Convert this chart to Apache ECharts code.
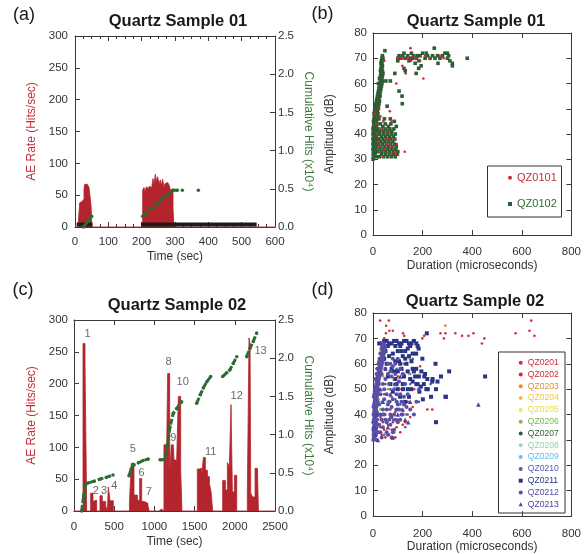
<!DOCTYPE html>
<html><head><meta charset="utf-8">
<script src="https://cdn.jsdelivr.net/npm/echarts@6/dist/echarts.min.js"></script>
<style>html,body{margin:0;padding:0;background:#fff}#c{width:584px;height:554px}</style>
</head><body><div id="c"></div>
<script>
// ---------- Panel (a): Quartz Sample 01, AE rate vs time ----------
const aRate = [[0,0],[10,8],[14,38],[18,40],[21,43],[24,44],[27,60],[29,67],[32,65],[34,67],[37,64],[40,66],[42,62],[45,61],[48,35],[50,10],[52,0],
 [203,58],[207,62],[210,55],[214,63],[218,60],[222,64],[226,62],[230,65],[234,76],[237,66],[241,83],[245,70],[248,79],[252,68],[256,74],[259,65],[263,75],[267,62],[270,68],[274,70],[278,72],[282,66],[286,58],[290,60],[294,30],[297,0],[600,0]];
const aBase = [[5,3.9],[52,3.9],[100,'-'],[198,3.9],[545,3.9]];
const aCum = [[25,0],[38,0.07],[50,0.14],[100,'-'],[203,0.14],[230,0.24],[260,0.36],[280,0.43],[295,0.48],[307,0.48],[314,'-'],[322,0.48],[340,'-'],[370,0.48]];

// ---------- Panel (b): Quartz Sample 01, amplitude vs duration ----------
const bQZ0101 = [[151,74],[132,64],[203,62],[94,60],[68,49],[114,70],[122,70],[154,69],[160,71],[172,70],[232,70],[268,71],[285,70],[210,71],[190,69],[140,70],[100,70],[46,69],
 [60,38],[42,45],[128,33],[90,33],[22,35],[50,38],[30,47],[80,35],[70,32],[12,44],[46,34],[25,50],[16,40],[56,36],[85,38],[96,36],[36,42],[64,41],[20,37],[75,45],[40,31],[8,48],[118,67],[93,32],[27,35],[66,36]];
const bQZ0102 = [
 [0,30],[2,31],[5,31],[1,32],[4,32],[8,32],[2,33],[6,33],[10,33],[0,34],[4,34],[8,34],[12,34],[2,35],[6,35],[10,35],[14,35],[0,36],[4,36],[8,36],[12,36],[2,37],[6,37],[10,37],[14,37],
 [0,38],[4,38],[8,38],[12,38],[16,38],[2,39],[6,39],[10,39],[14,39],[0,40],[4,40],[8,40],[12,40],[16,40],[2,41],[6,41],[10,41],[14,41],[0,42],[4,42],[8,42],[12,42],[16,42],
 [2,43],[6,43],[10,43],[14,43],[4,44],[8,44],[12,44],[16,44],[2,45],[6,45],[10,45],[14,45],[4,46],[8,46],[12,46],[16,46],[6,47],[10,47],[14,47],[18,47],[4,48],[8,48],[12,48],[16,48],[20,48],
 [6,49],[10,49],[14,49],[18,49],[8,50],[12,50],[16,50],[20,50],[10,51],[14,51],[18,51],[22,51],[12,52],[16,52],[20,52],[24,52],[14,53],[18,53],[22,53],[26,53],[16,54],[20,54],[24,54],
 [18,55],[22,55],[26,55],[28,55],[20,56],[24,56],[28,56],[22,57],[26,57],[30,57],[24,58],[28,58],[32,58],[26,59],[30,59],[34,59],[22,60],[28,60],[32,60],[36,60],[30,61],[34,61],[38,61],
 [26,62],[32,62],[36,62],[30,63],[34,63],[38,63],[32,64],[36,64],[40,64],[30,65],[34,65],[38,65],[32,66],[36,66],[34,67],[38,67],[32,68],[36,68],[34,69],[38,69],[36,70],[40,70],[38,71],
 [18,31],[26,31],[34,32],[42,31],[50,32],[58,31],[66,32],[74,31],[82,32],[90,31],[98,32],[20,33],[28,34],[36,33],[44,34],[52,33],[60,34],[68,33],[76,34],[84,33],[92,34],[100,33],
 [22,36],[30,35],[38,36],[46,35],[54,36],[62,35],[70,36],[78,35],[86,36],[94,35],[24,38],[32,37],[40,38],[48,37],[56,38],[64,37],[72,38],[80,37],[88,38],
 [26,40],[34,39],[42,40],[50,39],[58,40],[66,39],[74,40],[82,39],[90,40],[20,42],[28,41],[36,42],[44,41],[52,42],[60,41],[68,42],[76,41],[84,42],[30,44],[40,43],[50,44],[62,43],[72,44],[86,45],[94,43],[24,46],[46,46],[70,46],
 [48,73],[35,63],[52,61],[70,61],[88,64],[57,51],[105,57],[117,55],[118,52],[174,64],[184,66],[194,67],[130,65],[170,68],[125,66],
 [100,70],[105,71],[112,70],[120,71],[130,70],[140,71],[145,69],[152,70],[160,70],[165,71],[175,70],[180,71],[190,71],[200,72],[210,70],[220,71],[230,70],[240,71],[250,70],[260,71],[270,70],[280,71],[290,72],[300,70],[310,69],[320,68],[100,69],[125,72],[155,72],[185,69],[215,72],[247,74],[262,68],[300,72],[305,71],[380,70],[320,67]];

// ---------- Panel (c): Quartz Sample 02, AE rate vs time ----------
const cRate = [[0,0],[112,263],[137,234],[158,0],
 [207,28],[236,15],[257,17],[282,0],
 [323,24],[352,15],[394,8],[415,0],
 [427,38],[448,16],[489,0],
 [690,15],[713,75],[746,25],[788,17],[817,51],[842,15],[870,12],[920,8],[935,0],
 [1057,3],[1086,0],
 [1119,104],[1144,15],[1165,216],[1190,60],[1210,104],[1235,101],[1244,80],[1277,83],[1298,180],[1327,64],[1343,0],
 [1534,66],[1559,67],[1588,54],[1609,84],[1634,64],[1659,54],[1684,43],[1705,30],[1725,0],
 [1849,48],[1883,33],[1908,76],[1932,70],[1953,167],[1970,30],[1995,56],[2024,0],
 [2156,30],[2177,272],[2190,262],[2198,28],[2220,22],[2252,67],[2281,64],[2294,0],[2500,0]];
const cCum = [[95,0],[120,0.2],[150,0.36],[186,0.37],[250,0.39],[330,0.42],[400,0.44],[485,0.47],[550,'-'],
 [684,0.46],[710,0.55],[738,0.60],[800,0.63],[860,0.66],[924,0.68],[1000,'-'],
 [1070,0.67],[1124,0.67],[1160,0.85],[1194,1.10],[1235,1.28],[1277,1.34],[1339,1.43],[1400,'-'],
 [1526,1.41],[1570,1.52],[1608,1.61],[1650,1.69],[1700,1.76],[1780,'-'],
 [1849,1.76],[1900,1.81],[1940,1.85],[1980,1.93],[2024,2.02],[2090,'-'],
 [2148,2.02],[2189,2.13],[2230,2.22],[2272,2.33]];
const cPeakLabels = [[170,278,'1'],[270,31,'2'],[375,31,'3'],[500,40,'4'],[730,97,'5'],[840,60,'6'],[930,30,'7'],[1177,234,'8'],[1235,115,'9'],[1352,203,'10'],[1700,93,'11'],[2023,181,'12'],[2321,251,'13']];

// ---------- Panel (d): Quartz Sample 02, amplitude vs duration ----------
const dNames = ['QZ0201','QZ0202','QZ0203','QZ0204','QZ0205','QZ0206','QZ0207','QZ0208','QZ0209','QZ0210','QZ0211','QZ0212','QZ0213'];
const d01 = [[29,77],[64,77],[53,75],[66,73],[80,73],[126,71],[206,71],[199,70],[272,72],[286,70],[292,72],[332,72],[359,71],[385,71],[405,72],[439,68],[449,70],[575,72],[631,73],[638,77],[651,71],[52,72],[121,72],[45,70],[35,67],[28,64],[22,61],[160,69],[190,59],[166,50],[150,56],[125,60]];
const d02 = [[5,33],[15,32],[25,33],[35,32],[45,34],[55,33],[65,32],[75,34],[85,33],[95,35],[110,33],[20,36],[40,37],[60,36],[80,37],[100,38],[120,36],[30,39],[50,40],[70,39],[90,41],[115,42],[135,40],[160,43],[219,42],[239,42],[10,45],[15,52],[20,58],[8,40],[60,44],[75,47],[140,45],[105,47],[12,38],[30,35],[50,31],[90,31],[130,37],[150,39],[70,42],[45,48],[85,52],[100,55],[115,50]];
const d03 = [[292,75],[40,55],[22,46]];
const d04 = [[81,54],[30,65],[17,53]];
const d05 = [[10,48],[25,60],[60,52]];
const d06 = [[148,62],[60,50],[30,42]];
const d07 = [[35,40],[15,58],[70,45]];
const d08 = [[55,45],[90,42],[30,38],[45,52]];
const d09 = [[145,56],[70,47],[100,45],[40,60]];
const d10 = [[20,38],[35,45],[50,52],[65,42],[80,38],[95,58],[110,44],[125,56],[140,40],[150,52],[12,50],[28,62],[8,42],[45,32],[70,50],[90,46],[130,35],[160,62],[185,45],[232,52]];
const d11 = [[25,68],[35,68],[45,69],[55,69],[65,68],[75,68],[85,69],[95,69],[105,68],[115,68],[125,69],[135,69],[145,68],[155,68],[165,69],[175,68],[180,67],[60,67],[110,67],[150,67],[217,72],
 [174,58],[207,55],[240,54],[274,55],[307,57],[254,50],[221,50],[187,49],[154,50],[121,50],[174,64],[184,66],[130,65],[115,65],[160,64],[294,47],[254,37],[234,47],[201,46],
 [199,62],[452,55],[252,60],[292,47],[239,53],[219,54],[193,51],[160,58],[140,57],[170,55],[180,52],[210,56],[120,52],[100,57],[130,62],[110,60],[150,54],[260,53],[140,50],[80,64],[90,61],[60,55],[75,58],[95,52],
 [45,62],[55,60],[65,63],[85,57],[105,61],[115,58],[125,55],[135,60],[145,63],[155,61],[165,57],[175,52],[185,55],[195,57],[205,52],[215,50],[70,52],[80,49],[90,54],[100,50],[110,47],[130,45],[145,47],[160,53],[120,63],[100,65],[90,67],[140,66],[50,65],[40,62]];
const d12 = [[1,30],[3,31],[6,31],[2,32],[8,32],[4,33],[10,33],[1,34],[6,34],[12,34],[3,35],[9,35],[14,35],[5,36],[11,36],[1,37],[7,37],[13,37],[3,38],[9,38],[15,38],[5,39],[11,39],[2,40],[8,40],[14,40],[4,41],[10,41],[16,41],
 [6,42],[12,42],[2,43],[8,43],[14,43],[4,44],[10,44],[17,44],[6,45],[12,45],[19,45],[8,46],[14,46],[3,47],[10,47],[16,47],[5,48],[12,48],[18,48],[7,49],[14,49],[20,49],[9,50],[16,50],[22,50],
 [11,51],[18,51],[13,52],[20,52],[24,52],[15,53],[22,53],[10,54],[17,54],[24,54],[19,55],[26,55],[14,56],[21,56],[28,56],[23,57],[30,57],[18,58],[25,58],[32,58],[27,59],[34,59],[22,60],[29,60],[36,60],
 [31,61],[38,61],[26,62],[33,62],[40,62],[35,63],[42,63],[30,64],[37,64],[44,64],[39,65],[46,65],[34,66],[41,66],[48,66],[43,67],[50,67],[38,68],[45,68],
 [30,40],[40,42],[50,38],[60,44],[70,40],[80,46],[90,38],[100,44],[110,48],[120,40],[45,50],[55,48],[65,52],[75,55],[85,50],[95,48],[105,53],[115,45],[125,47],[135,43],[40,35],[55,33],[70,36],[85,34],[100,37],
 [35,56],[50,58],[60,60],[70,57],[80,59],[90,56],[60,32],[75,31],[45,46],[25,44],[30,33],[95,42],[110,38],[130,52],[140,48],[150,42],[165,40],[175,45],[185,50],
 [20,40],[35,38],[45,40],[55,42],[65,45],[75,43],[85,40],[95,45],[105,42],[115,40],[125,44],[50,54],[60,56],[70,60],[80,62],[90,60],[100,62],[110,58],[120,56],[40,52],[30,48],[25,36],[35,31],[20,33],[15,30],[40,40],[55,37],[65,38],[75,39],[80,33]];
const d13 = [[425,44],[142,37],[80,31],[20,30],[10,32],[60,35],[100,40],[40,45],[120,42],[30,50],[70,48],[110,55],[50,58],[90,52],[150,45],[15,40],[5,35],[130,38]];

// ---------- styling ----------
const F = '"Liberation Sans", Arial, Helvetica, sans-serif';
const AX = '#3a3a3a', TXT = '#333';
const RED = '#b3242c', GREEN = '#2f6a34';

function xAx(g, min, max, itv, pos, o) {
  o = o || {};
  return {gridIndex:g, type:'value', position:pos, min, max, interval:itv,
    name: pos==='bottom' ? o.name : '', nameLocation:'middle', nameGap:o.nameGap||24,
    nameTextStyle:{fontFamily:F, fontSize:12, color:TXT},
    axisLine:{show:true, onZero:false, lineStyle:{color:AX, width:1}},
    axisTick:{show:true, inside:true, length:5, lineStyle:{color:AX}},
    minorTick:{show:!!o.minor, splitNumber:o.minor||5, length:3, lineStyle:{color:AX}},
    splitLine:{show:false},
    axisLabel:{show:pos==='bottom', fontFamily:F, fontSize:11.5, color:TXT, margin:o.margin||9, formatter:v=>String(v)}};
}
function yAx(g, min, max, itv, pos, o) {
  o = o || {};
  return {gridIndex:g, type:'value', position:pos, min, max, interval:itv,
    name:o.name||'', nameLocation:'middle', nameGap:o.nameGap||37, nameRotate:o.rot,
    nameTextStyle:{fontFamily:F, fontSize:12, color:o.nameColor||TXT},
    axisLine:{show:true, onZero:false, lineStyle:{color:AX, width:1}},
    axisTick:{show:true, inside:true, length:5, lineStyle:{color:AX}},
    splitLine:{show:false},
    axisLabel:{show:!!o.label, fontFamily:F, fontSize:11.5, color:TXT, margin:o.margin||6, formatter:o.fmt||(v=>String(v))}};
}
const f1 = v => v.toFixed(1);

const grids = [
  {left:75, top:36, width:200, height:191},
  {left:373, top:33, width:201, height:202},
  {left:74, top:320, width:201, height:191},
  {left:373, top:313, width:201, height:204}
];
const xAxis = [
  xAx(0,0,600,100,'bottom',{name:'Time (sec)', minor:4, margin:9, nameGap:24}), xAx(0,0,600,100,'top',{minor:4}),
  xAx(1,0,800,200,'bottom',{name:'Duration (microseconds)', margin:11, nameGap:25}), xAx(1,0,800,200,'top'),
  xAx(2,0,2500,500,'bottom',{name:'Time (sec)', margin:10, nameGap:25}), xAx(2,0,2500,500,'top'),
  xAx(3,0,800,200,'bottom',{name:'Duration (microseconds)', margin:12, nameGap:24}), xAx(3,0,800,200,'top')
];
const yAxis = [
  yAx(0,0,300,50,'left',{name:'AE Rate (Hits/sec)', nameColor:'#c0303a', nameGap:37, label:true, margin:7}),
  yAx(0,0,2.5,0.5,'right',{name:'Cumulative Hits (x10⁴)', nameColor:'#3d7a3d', nameGap:27, rot:-90, label:true, margin:3, fmt:f1}),
  yAx(1,0,80,10,'left',{name:'Amplitude (dB)', nameGap:37, label:true, margin:6}),
  yAx(1,0,80,10,'right',{}),
  yAx(2,0,300,50,'left',{name:'AE Rate (Hits/sec)', nameColor:'#c0303a', nameGap:36, label:true, margin:6}),
  yAx(2,0,2.5,0.5,'right',{name:'Cumulative Hits (x10⁴)', nameColor:'#3d7a3d', nameGap:27, rot:-90, label:true, margin:3, fmt:f1}),
  yAx(3,0,80,10,'left',{name:'Amplitude (dB)', nameGap:37, label:true, margin:6}),
  yAx(3,0,80,10,'right',{})
];

function rateSeries(data, xi, yi) {
  return {type:'line', data, xAxisIndex:xi, yAxisIndex:yi, step:'end', symbol:'none',
    lineStyle:{color:RED, width:0.8}, itemStyle:{color:RED}, areaStyle:{color:RED, opacity:1}, animation:false, z:2};
}
function cumSeries(data, xi, yi) {
  return {type:'line', data, xAxisIndex:xi, yAxisIndex:yi, connectNulls:false, symbol:'circle', symbolSize:3.5,
    showSymbol:true, showAllSymbol:true, lineStyle:{color:GREEN, width:3, type:[6,2]}, itemStyle:{color:GREEN}, animation:false, z:4};
}
function sc(name, data, xi, yi, color, symbol, size, z) {
  return {name, type:'scatter', data, xAxisIndex:xi, yAxisIndex:yi, symbol, symbolSize:size,
    itemStyle:{color, opacity:1}, animation:false, z:z||3};
}
const dStyles = [
  ['#cc3340','circle',2.6],['#d8262b','circle',2.6],['#e8892e','circle',2.8],['#f0c13a','circle',2.8],['#eee445','circle',2.8],
  ['#7bbf45','circle',2.8],['#2f5d32','circle',2.8],['#9fd6b9','circle',2.8],['#5ec3ee','circle',2.8],['#4b5fae','circle',2.6],
  ['#2a3487','rect',4],['#5a4fa5','circle',4],['#4c43a0','triangle',4.5]
];
const dData = [d01,d02,d03,d04,d05,d06,d07,d08,d09,d10,d11,d12,d13];

const series = [
  rateSeries(aRate,0,0),
  {type:'line', data:aBase, xAxisIndex:0, yAxisIndex:0, symbol:'none', connectNulls:false, lineStyle:{color:'#1d1d1d', width:4}, animation:false, z:3},
  cumSeries(aCum,0,1),
  sc('QZ0101', bQZ0101, 2, 2, '#d0283a', 'circle', 2.6, 4),
  sc('QZ0102', bQZ0102, 2, 2, '#2d5e34', 'rect', 3.6, 3),
  rateSeries(cRate,4,4),
  cumSeries(cCum,4,5),
  {type:'scatter', data:cPeakLabels, xAxisIndex:4, yAxisIndex:4, symbolSize:0, animation:false, z:5,
   label:{show:true, position:'inside', formatter:p=>p.value[2], fontFamily:F, fontSize:11, color:'#444'}}
];
dNames.forEach((n,i)=>{
  const s = dStyles[i];
  series.push(sc(n, dData[i], 6, 6, s[0], s[1], s[2], i>=9 ? 4 : 3));
});

const legendB = {orient:'vertical', left:508, top:171.7, padding:0, itemGap:14.3, itemWidth:4, itemHeight:4, selectedMode:false,
  textStyle:{fontFamily:F, fontSize:11, lineHeight:12},
  data:[{name:'QZ0101', icon:'circle', textStyle:{color:'#c0303a'}}, {name:'QZ0102', icon:'rect', textStyle:{color:'#2f6a34'}}]};
const dTextColors = ['#c8303c','#d42a30','#e08a40','#eec43c','#e8e040','#78b848','#2f5d32','#98cfb0','#5cbfe8','#4b5fae','#2a3487','#5a4fa5','#4c43a0'];
const legendD = {orient:'vertical', left:518.7, top:357.7, padding:0, itemGap:1.8, itemWidth:4, itemHeight:4, selectedMode:false,
  textStyle:{fontFamily:F, fontSize:8.6, lineHeight:10},
  data:dNames.map((n,i)=>({name:n, icon:dStyles[i][1], textStyle:{color:dTextColors[i]}}))};

function txt(x, y, t, size, weight) {
  return {type:'text', x, y, z:10, style:{text:t, align:'center', verticalAlign:'middle', fill:'#1a1a1a',
    font:(weight||'normal')+' '+size+'px '+F}};
}
const graphic = [
  txt(24,15,'(a)',18), txt(322.5,14.5,'(b)',18), txt(23,290,'(c)',18), txt(322.5,290,'(d)',18),
  txt(178,21.7,'Quartz Sample 01',16.5,'bold'), txt(476,21.7,'Quartz Sample 01',16.5,'bold'),
  txt(177,305,'Quartz Sample 02',16.5,'bold'), txt(475,301.5,'Quartz Sample 02',16.5,'bold'),
  {type:'rect', z:9, shape:{x:487.5,y:166,width:74,height:51}, style:{fill:'rgba(0,0,0,0)', stroke:'#333', lineWidth:1}},
  {type:'rect', z:9, shape:{x:498.5,y:352,width:66.5,height:161}, style:{fill:'rgba(0,0,0,0)', stroke:'#333', lineWidth:1}}
];

const chart = echarts.init(document.getElementById('c'), null, {renderer:'canvas'});
chart.setOption({animation:false, backgroundColor:'#fff', grid:grids, xAxis, yAxis, series, legend:[legendB, legendD], graphic});
</script>
</body></html>
